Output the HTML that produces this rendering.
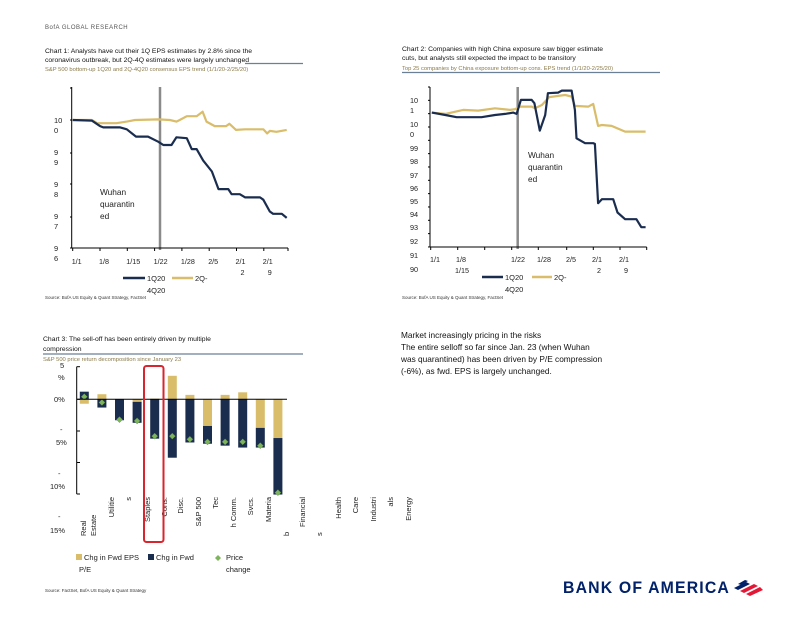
<!DOCTYPE html>
<html><head><meta charset="utf-8"><style>
body{margin:0;background:#fff;font-family:"Liberation Sans",sans-serif;}
svg text{font-family:"Liberation Sans",sans-serif;}
</style></head><body>
<svg id="s" width="792" height="612" xmlns="http://www.w3.org/2000/svg">
<text x="45" y="29" font-size="6" fill="#555" letter-spacing="0.5">BofA GLOBAL RESEARCH</text>
<g font-size="6.8" fill="#111">
<text x="45" y="53">Chart 1: Analysts have cut their 1Q EPS estimates by 2.8% since the</text>
<text x="45" y="62">coronavirus outbreak, but 2Q-4Q estimates were largely unchanged</text>
</g>
<line x1="245" y1="63.5" x2="303" y2="63.5" stroke="#6b7f96" stroke-width="1.2"/>
<text x="45" y="71" font-size="5.8" fill="#8a7a4a">S&amp;P 500 bottom-up 1Q20 and 2Q-4Q20 consensus EPS trend (1/1/20-2/25/20)</text>
<g font-size="6.8" fill="#111">
<text x="402" y="51">Chart 2: Companies with high China exposure saw bigger estimate</text>
<text x="402" y="60">cuts, but analysts still expected the impact to be transitory</text>
</g>
<text x="402" y="70" font-size="5.8" fill="#8a7a4a">Top 25 companies by China exposure bottom-up cons. EPS trend (1/1/20-2/25/20)</text>
<line x1="402" y1="72.5" x2="660" y2="72.5" stroke="#6b7f96" stroke-width="1.2"/>
<g id="c1"></g>
<g id="c2"></g>
<text x="45" y="299" font-size="4.5" fill="#333">Source: BofA US Equity &amp; Quant Strategy, FactSet</text>
<text x="402" y="299" font-size="4.5" fill="#333">Source: BofA US Equity &amp; Quant Strategy, FactSet</text>
<g font-size="6.8" fill="#111">
<text x="43" y="341">Chart 3: The sell-off has been entirely driven by multiple</text>
<text x="43" y="351">compression</text>
</g>
<line x1="43" y1="354" x2="303" y2="354" stroke="#6b7f96" stroke-width="1.2"/>
<text x="43" y="361" font-size="5.8" fill="#8a7a4a">S&amp;P 500 price return decomposition since January 23</text>
<g id="c3"></g>
<text x="45" y="592" font-size="4.5" fill="#333">Source: FactSet, BofA US Equity &amp; Quant Strategy</text>
<g font-size="8.3" fill="#111">
<text x="401" y="338">Market increasingly pricing in the risks</text>
<text x="401" y="350">The entire selloff so far since Jan. 23 (when Wuhan</text>
<text x="401" y="362">was  quarantined) has been driven by P/E compression</text>
<text x="401" y="374">(-6%), as  fwd. EPS is largely unchanged.</text>
</g>
<g>
<text x="563" y="593" font-size="16.5" font-weight="bold" fill="#012169" letter-spacing="1.2" textLength="167" lengthAdjust="spacingAndGlyphs">BANK OF AMERICA</text>
<g transform="translate(734,580)">
<path d="M0 8 L12 2 L16 4 L4 10Z" fill="#012169"/>
<path d="M6 11 L20 4 L24 6 L10 13Z" fill="#e31837"/>
<path d="M12 14 L26 7 L29 10 L16 16Z" fill="#e31837"/>
<path d="M4 4 L11 0 L14 1 L7 5Z" fill="#012169"/>
</g>
</g>
</svg>
<script>
const NS="http://www.w3.org/2000/svg";
function el(p,t,a){const e=document.createElementNS(NS,t);for(const k in a)e.setAttribute(k,a[k]);p.appendChild(e);return e;}
function txt(p,x,y,s,sz,anchor){const e=el(p,'text',{x:x,y:y,'font-size':sz||7.5,fill:'#222','text-anchor':anchor||'start'});e.textContent=s;return e;}

const c1NavyDays=[0,3.5,5,5.6,8.7,9.9,11.6,13.8,15.7,16.6,18.1,19,20.9,21.8,22.7,23.9,25.5,26.7,28.5,29.1,30.6,31.6,34.3,34.9,36.1,36.7,38.3,39.2];
const c1NavyVals=[100,99.98,99.81,99.77,99.77,99.71,99.48,99.48,99.32,99.22,99.22,99.46,99.43,99.09,99.09,98.73,98.39,97.84,97.84,97.68,97.68,97.58,97.58,97.51,97.14,97.07,97.07,96.94];
const c1GoldDays=[0,3.5,4.5,8,9.9,11.4,15.7,17.8,19,19.6,20.9,22.7,23.8,24.5,26,28.1,28.7,29.9,31.6,34.9,35.6,36.1,37.3,39.2];
const c1GoldVals=[100,100,99.9,99.9,99.95,100,100.02,100,99.95,100,100.12,100.12,100.26,99.95,99.81,99.81,99.88,99.69,99.71,99.71,99.58,99.66,99.63,99.69];
const c1TickLabels=['1/1','1/8','1/15','1/22','1/28','2/5','2/1|2','2/1|9'];
const c1YLabels=['10|0','9|9','9|8','9|7','9|6'];
const c1YVals=[100,99,98,97,96];
const c2NavyDays=[0.2,2.7,4.8,9.4,11.9,13.8,15.3,15.9,16.7,18.7,19.2,20.2,21.2,21.7,23.6,24.3,26.1,26.7,27,28.6,30.1,30.4,31,31.7,33.8,34.6,36,38.1,39,39.8];
const c2NavyVals=[101.63,101.45,101.28,101.28,101.45,101.53,101.63,101.53,102.58,102.58,102.33,100.28,101.45,103.08,103.13,103.28,103.28,101.83,99.7,99.33,99.33,99.28,94.83,95.13,95.13,94.13,93.63,93.63,93.03,93.03];
const c2GoldDays=[0.2,2.7,6,8.8,11.9,14.7,15.6,16.5,18.7,19.3,20.6,21.9,23.6,24.9,26.1,26.7,29.2,30.1,31,31.7,33.5,36,39.8];
const c2GoldVals=[101.63,101.53,101.83,101.78,101.95,101.83,101.88,102.08,102.08,101.95,102.2,102.78,102.88,102.95,102.83,102.13,102.08,102.28,100.63,100.7,100.63,100.2,100.2];
const c3Categories=['Real Estate','Utilities','Staples','Cons. Disc.','S&P 500','Tech','Comm. Svcs.','Materials','Financials','Health Care','Industrials','Energy'];
const c3Eps=[-0.7,0.8,0,-0.4,0.1,3.7,0.7,-4.2,0.7,1.1,-4.5,-6.1];
const c3Pe=[1.2,-1.3,-3.3,-3.3,-6.2,-9.2,-6.8,-2.8,-7.3,-7.6,-3.1,-8.9];
const c3Price=[0.4,-0.5,-3.2,-3.4,-5.8,-5.8,-6.3,-6.7,-6.7,-6.7,-7.3,-14.7];

const NAVY='#1b2d4f',GOLD='#d9bd6a';
function lineChart(g,o){
  const X=d=>o.x0+d*o.dx, Y=v=>o.y0-(v-o.v0)*o.dy;
  el(g,'line',{x1:o.vx,y1:o.top,x2:o.vx,y2:o.ax+2,stroke:'#8a8a8a','stroke-width':2.5});
  const mk=(days,vals,c,name)=>{let d='';days.forEach((t,i)=>{d+=(i?'L':'M')+X(t).toFixed(1)+' '+Y(vals[i]).toFixed(1);});
    const p=el(g,'path',{d:d,fill:'none',stroke:c,'stroke-width':2.2,'stroke-linejoin':'round'});
    
    };
  mk(o.gd,o.gv,GOLD,'line-2q-4q20');
  mk(o.nd,o.nv,NAVY,'line-1q20');
  el(g,'line',{x1:o.yx,y1:o.top,x2:o.yx,y2:o.ax,stroke:'#000','stroke-width':1});
  el(g,'line',{x1:o.yx,y1:o.ax,x2:o.xend,y2:o.ax,stroke:'#000','stroke-width':1});
}
(function(){
 const g=document.getElementById('c1');
 const o={x0:72.7,dx:5.46,y0:120,v0:100,dy:32,vx:160,top:87,ax:248,yx:71.7,xend:288,nd:c1NavyDays,nv:c1NavyVals,gd:c1GoldDays,gv:c1GoldVals};
 lineChart(g,o);
 [88,120,153,184,217,248].forEach(y=>el(g,'line',{x1:70,y1:y,x2:72,y2:y,stroke:'#000'}));
 c1YVals.forEach((v,i)=>{const y=o.y0-(v-o.v0)*o.dy;const ps=c1YLabels[i].split('|');
   const t=txt(g,54,y+3,ps[0],7.5);
   txt(g,54,y+13,ps[1],7.5);});
 c1TickLabels.forEach((s,i)=>{const x=72.7+i*27.3;const ps=s.split('|');
   el(g,'line',{x1:x,y1:248,x2:x,y2:251,stroke:'#000'});
   const t=txt(g,x-1,264,ps[0],7.2);
   if(ps[1])txt(g,x+4,275,ps[1],7.2);});
 el(g,'line',{x1:288,y1:248,x2:288,y2:251,stroke:'#000'});
 txt(g,100,195,'Wuhan',8.3);txt(g,100,207,'quarantin',8.3);txt(g,100,219,'ed',8.3);
 el(g,'line',{x1:123,y1:278,x2:145,y2:278,stroke:NAVY,'stroke-width':2.5});
 txt(g,147,281,'1Q20',7.5);txt(g,147,293,'4Q20',7.5);
 el(g,'line',{x1:172,y1:278,x2:193,y2:278,stroke:GOLD,'stroke-width':2.5});
 txt(g,195,281,'2Q-',7.5);
})();
(function(){
 const g=document.getElementById('c2');
 const o={x0:430.7,dx:5.4,y0:134.3,v0:100,dy:13.33,vx:517.7,top:87,ax:247,yx:430,xend:646.7,nd:c2NavyDays,nv:c2NavyVals,gd:c2GoldDays,gv:c2GoldVals};
 lineChart(g,o);
 const yl=[['10',100],['1',110],['10',124],['0',134],['99',148],['98',161],['97',175],['96',188],['95',201],['94',214],['93',227],['92',241],['91',255],['90',269]];
 yl.forEach(a=>{const t=txt(g,410,a[1]+3,a[0],7.3);});
 for(let y=87;y<=247;y+=13.33)el(g,'line',{x1:428,y1:y,x2:430,y2:y,stroke:'#000'});
 const xl=[[431,'1/1',''],[457,'1/8','1/15'],[512,'1/22',''],[538,'1/28',''],[567,'2/5',''],[593,'2/1','2'],[620,'2/1','9']];
 xl.forEach(a=>{const t=txt(g,a[0]-1,262,a[1],7.2);
   if(a[2])txt(g,a[2]=='1/15'?a[0]-2:a[0]+4,273,a[2],7.2);});
 [430.7,457.7,484.7,511.7,538.3,566.7,593.3,620,646.7].forEach(x=>el(g,'line',{x1:x,y1:247,x2:x,y2:250,stroke:'#000'}));
 txt(g,528,158,'Wuhan',8.3);txt(g,528,170,'quarantin',8.3);txt(g,528,182,'ed',8.3);
 el(g,'line',{x1:482,y1:277,x2:503,y2:277,stroke:NAVY,'stroke-width':2.5});
 txt(g,505,280,'1Q20',7.5);txt(g,505,292,'4Q20',7.5);
 el(g,'line',{x1:532,y1:277,x2:552,y2:277,stroke:GOLD,'stroke-width':2.5});
 txt(g,554,280,'2Q-',7.5);
})();
(function(){
 const g=document.getElementById('c3');
 const zeroY=399.3, pp=6.35, x0=84.3, step=17.6, bw=9;
 const Y=v=>zeroY-v*pp;
 c3Categories.forEach((c,i)=>{
   const cx=x0+i*step, e=c3Eps[i], p=c3Pe[i];
   let eTop,eBot,pTop,pBot;
   if(e<0&&p<0){eTop=0;eBot=e;pTop=e;pBot=e+p;}
   else{eTop=Math.max(0,e);eBot=Math.min(0,e);pTop=Math.max(0,p);pBot=Math.min(0,p);}
   if(e!==0){const r=el(g,'rect',{x:cx-bw/2,y:Y(eTop),width:bw,height:Y(eBot)-Y(eTop),fill:GOLD});
     }
   const r2=el(g,'rect',{x:cx-bw/2,y:Y(pTop),width:bw,height:Y(pBot)-Y(pTop),fill:NAVY});
   
   const y=Y(c3Price[i]);
   const d=el(g,'path',{d:`M${cx} ${y-3}L${cx+3} ${y}L${cx} ${y+3}L${cx-3} ${y}Z`,fill:'#7db45c',stroke:'#5e8e44','stroke-width':0.5});
   
 });
 el(g,'line',{x1:76.7,y1:366.7,x2:76.7,y2:494,stroke:'#000'});
 el(g,'line',{x1:76.7,y1:zeroY,x2:287,y2:zeroY,stroke:'#000'});
 [366.7,399.3,431,462.5,494].forEach(y=>el(g,'line',{x1:76.7,y1:y,x2:80,y2:y,stroke:'#000'}));
 const yl=[[60,368,'5'],[58,380,'%'],[54,402,'0%'],[60,432,'-'],[56,445,'5%'],[58,476,'-'],[50,489,'10%'],[58,519,'-'],[50,533,'15%']];
 yl.forEach(a=>{const t=txt(g,a[0],a[1],a[2],7.5);});
 // [x, text, mode] mode: 't' top-aligned at 497, 'b' bottom-aligned at 536
 const xl=[[86,'Real','b'],[96,'Estate','b'],[114,'Utilitie','t'],[131,'s','t'],[150,'Staples','t'],[167,'Cons.','t'],[183,'Disc.','t'],[201,'S&P 500','t'],[218,'Tec','t'],[236,'h Comm.','t'],[253,'Svcs.','t'],[271,'Materia','t'],[289,'b','b'],[305,'Financial','t'],[322,'s','b'],[341,'Health','t'],[358,'Care','t'],[376,'Industri','t'],[393,'als','t'],[411,'Energy','t']];
 xl.forEach(a=>{const top=a[2]=='t';
   const t=el(g,'text',{x:0,y:0,'font-size':7.5,fill:'#222','text-anchor':top?'end':'start',transform:`translate(${a[0]},${top?497:536}) rotate(-90)`});t.textContent=a[1];
   });
 const box=el(g,'rect',{x:144,y:366,width:19.5,height:176,rx:2.5,fill:'none',stroke:'#d9262e','stroke-width':2});
 
 el(g,'rect',{x:76,y:554,width:6,height:6,fill:GOLD});
 txt(g,84,560,'Chg in Fwd EPS',7.5);txt(g,79,572,'P/E',7.5);
 el(g,'rect',{x:148,y:554,width:6,height:6,fill:NAVY});
 txt(g,156,560,'Chg in Fwd',7.5);
 el(g,'path',{d:'M218 555L221 558L218 561L215 558Z',fill:'#7db45c'});
 txt(g,226,560,'Price',7.5);txt(g,226,572,'change',7.5);
})();
</script>
</body></html>
